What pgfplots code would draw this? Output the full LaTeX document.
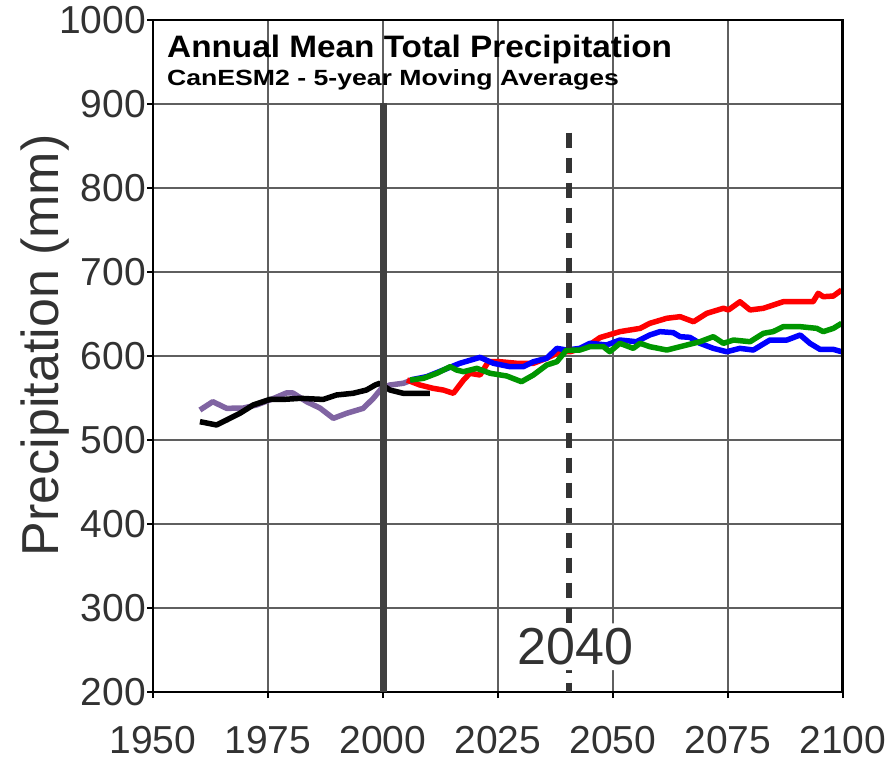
\documentclass[border=0pt]{standalone}
\usepackage{fontspec}
\setmainfont{Liberation Sans}
\usepackage{graphicx}
\usepackage{pgfplots}
\usepackage{pgfplotstable}
\pgfplotsset{compat=1.18}
\definecolor{cpurple}{RGB}{128,100,162}
\definecolor{cred}{RGB}{255,0,0}
\definecolor{cblue}{RGB}{0,0,255}
\definecolor{cgreen}{RGB}{0,150,0}
\definecolor{cgrid}{RGB}{95,95,95}
\definecolor{ctext}{RGB}{50,50,50}

\pgfplotstableread{
x y
1960.2 535.7
1963.0 545.6
1966.0 537.7
1969.6 538.0
1972.5 541.7
1975.4 547.6
1979.0 556.0
1980.4 556.0
1983.4 545.6
1986.3 538.0
1989.2 525.8
1992.1 531.8
1995.7 537.7
1997.9 549.6
1999.7 561.5
2001.5 565.5
2004.4 567.5
2005.9 570.6
}\purpledata

\pgfplotstableread{
x y
1960.2 521.8
1963.8 517.9
1966.0 523.8
1968.9 531.8
1971.8 541.7
1975.4 548.3
1978.3 548.3
1982.0 549.6
1987.0 548.3
1989.9 553.6
1993.5 555.6
1996.4 559.5
1998.3 565.5
1999.3 567.5
2001.5 559.5
2004.4 555.6
2007.3 555.6
2010.2 555.6
}\blackdata

\pgfplotstableread{
x y
2005.2 571.4
2008.0 565.5
2010.9 561.5
2013.1 559.5
2015.3 555.6
2017.5 571.4
2018.9 579.4
2021.1 577.4
2022.9 593.2
2025.4 593.2
2029.1 591.3
2032.7 591.3
2035.6 597.3
2038.5 605.1
2040.7 605.1
2044.3 611.1
2047.2 622.0
2051.5 629.0
2055.9 632.9
2058.0 638.9
2061.7 644.9
2064.6 646.8
2067.5 640.8
2070.4 650.8
2074.0 656.8
2075.1 654.8
2077.6 664.6
2079.8 654.8
2082.7 656.8
2087.0 664.6
2090.7 664.6
2093.5 664.6
2094.6 674.6
2095.7 670.6
2097.9 671.4
2099.7 678.6
}\reddata

\pgfplotstableread{
x y
2005.9 571.4
2009.5 575.4
2013.1 583.3
2016.7 591.3
2021.1 598.4
2024.0 591.3
2027.6 587.3
2030.5 587.3
2032.7 593.2
2035.6 597.3
2037.8 609.1
2039.9 607.1
2042.8 609.1
2045.0 615.1
2048.6 613.1
2051.5 619.0
2055.1 617.0
2058.0 625.0
2060.2 629.0
2063.1 627.8
2064.6 623.0
2066.7 622.2
2068.9 615.1
2071.8 609.1
2074.7 605.1
2077.6 609.1
2080.5 607.1
2084.1 619.0
2087.8 619.0
2090.7 625.0
2092.8 615.1
2095.0 607.9
2097.9 607.9
2099.7 605.1
}\bluedata

\pgfplotstableread{
x y
2005.9 571.4
2008.8 573.4
2011.7 579.4
2014.6 587.3
2016.0 583.3
2017.5 581.3
2020.4 585.3
2023.3 579.4
2026.9 576.2
2030.1 569.4
2032.7 577.4
2035.6 589.3
2037.8 593.2
2039.9 607.1
2042.8 607.1
2045.0 611.1
2047.9 611.1
2049.3 605.1
2051.5 615.1
2054.4 609.1
2055.9 615.1
2058.0 611.1
2061.7 607.1
2064.6 611.1
2068.9 617.0
2071.8 623.0
2074.0 615.1
2076.2 619.0
2079.8 617.0
2082.7 627.0
2084.8 629.0
2087.0 634.9
2090.7 634.9
2094.3 632.9
2095.7 629.0
2097.9 632.9
2099.7 638.9
}\greendata

\begin{document}
\begin{tikzpicture}
\begin{axis}[name=ax,
  scale only axis, width=690pt, height=672pt,
  xmin=1950, xmax=2100, ymin=200, ymax=1000,
  xtick={1950,1975,2000,2025,2050,2075,2100},
  ytick={200,300,400,500,600,700,800,900,1000},
  /pgf/number format/1000 sep={},
  /pgf/number format/assume math mode=true,
  grid=major,
  major grid style={cgrid, line width=1.2pt},
  axis line style={black, line width=2pt},
  tick align=outside, major tick length=6pt,
  tick style={black, line width=1.2pt},
  xtick pos=bottom, ytick pos=left,
  ticklabel style={font=\fontsize{39}{40}\selectfont, text=ctext},
  yticklabel style={inner xsep=1pt},
  xticklabel style={inner sep=0pt, anchor=north, yshift=-28pt},
  ylabel={Precipitation (mm)},
  ylabel style={at={(axis description cs:-0.1565,0.516)}, anchor=center, rotate=0,
    font=\fontsize{52}{52}\selectfont, text=ctext},
]
\addplot[cpurple, line width=5.5pt, line join=round] table[x=x,y=y] {\purpledata};
\addplot[black, line width=5.5pt, line join=round] table[x=x,y=y] {\blackdata};
\addplot[cred, line width=5.5pt, line join=round] table[x=x,y=y] {\reddata};
\addplot[cblue, line width=5.5pt, line join=round] table[x=x,y=y] {\bluedata};
\addplot[cgreen, line width=5.5pt, line join=round] table[x=x,y=y] {\greendata};

\draw[black!75, line width=7pt] (axis cs:2000,200) -- (axis cs:2000,901);
\draw[black!80, line width=6pt, dash pattern=on 15pt off 10pt] (axis cs:2040.5,866) -- (axis cs:2040.5,200);
\node[fill=white, rounded corners=18pt, inner xsep=11pt, inner ysep=5pt, text=ctext,
  font=\fontsize{52}{52}\selectfont] at (axis cs:2041.9,253.9) {2040};

\draw[black, line width=4pt] (rel axis cs:1,0) -- (rel axis cs:1,1);

\node[anchor=base west, xshift=14pt, yshift=-38pt,
  font=\fontsize{31}{31}\selectfont\bfseries, inner sep=0pt] at (rel axis cs:0,1)
  {\scalebox{1.075}[1]{Annual Mean Total Precipitation}};
\node[anchor=base west, xshift=14pt, yshift=-66pt,
  font=\fontsize{22}{22}\selectfont\bfseries, inner sep=0pt] at (rel axis cs:0,1)
  {\scalebox{1.21}[1]{CanESM2 - 5-year Moving Averages}};
\end{axis}
\pgfresetboundingbox
\useasboundingbox ([xshift=-153pt,yshift=-72pt]ax.south west) rectangle ([xshift=52pt,yshift=20pt]ax.north east);
\end{tikzpicture}
\end{document}
